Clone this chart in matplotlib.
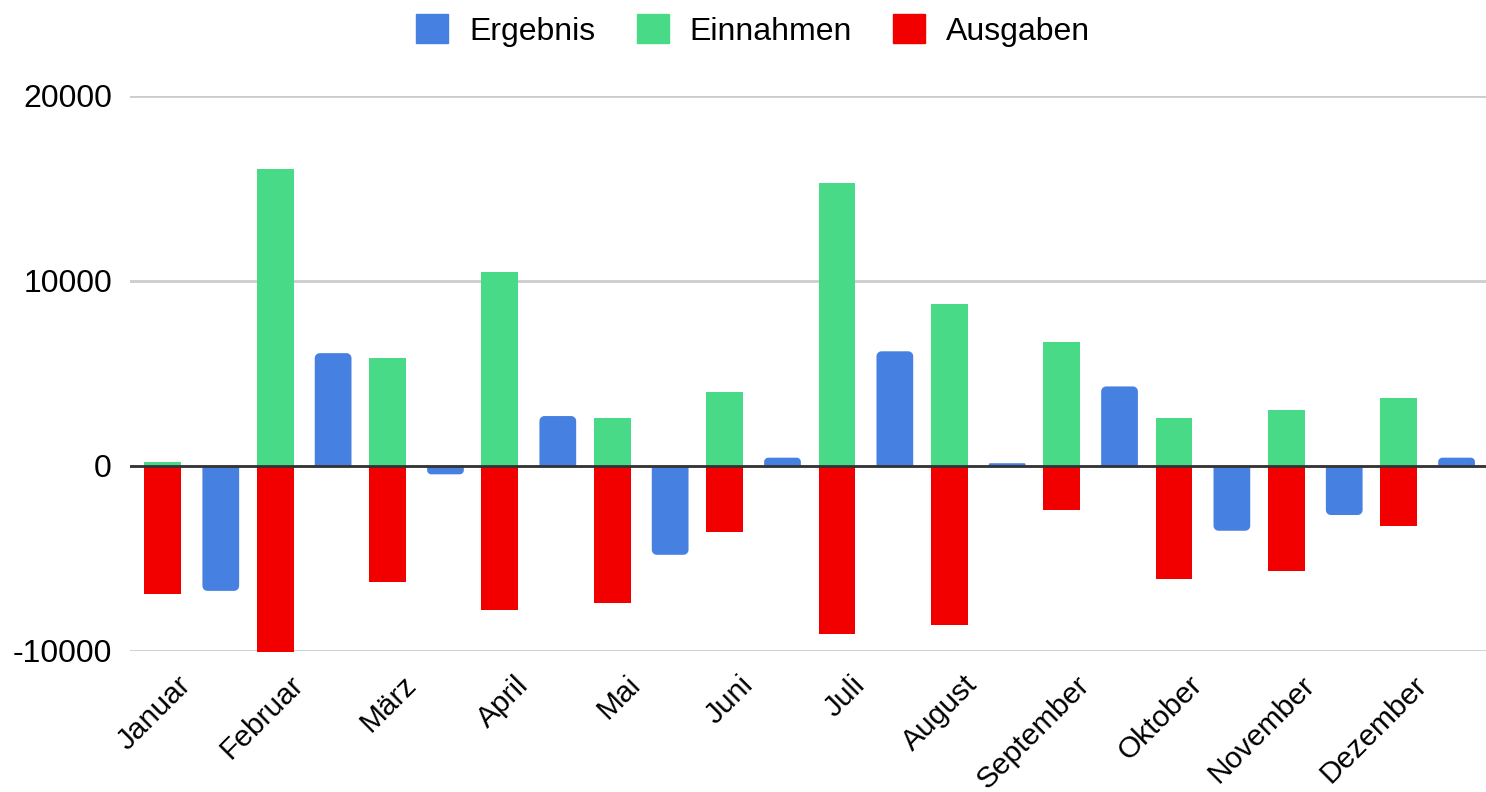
import matplotlib as mpl
import matplotlib.pyplot as plt
import matplotlib.transforms as mtransforms
from matplotlib.patches import Patch, Polygon
import numpy as np

mpl.rcParams['font.family'] = ['Liberation Sans', 'DejaVu Sans']

# data
monate = ['Januar', 'Februar', 'März', 'April', 'Mai', 'Juni', 'Juli',
          'August', 'September', 'Oktober', 'November', 'Dezember']
einnahmen = [200, 16050, 5850, 10500, 2600, 4000, 15300, 8750, 6700, 2600, 3000, 3700]
ausgaben = [-6900, -10050, -6250, -7800, -7400, -3550, -9100, -8600, -2400, -6100, -5700, -3250]
ergebnis = [-6750, 6100, -450, 2700, -4800, 450, 6200, 150, 4300, -3500, -2650, 450]

c_blue = '#4680E0'
c_green = '#48DA87'
c_red = '#F20000'
fs = 23

fig = plt.figure(figsize=(14.86, 7.92), dpi=100)
ax = fig.add_axes([130/1486, 141/792, 1356/1486, 555/792])

x = np.arange(len(monate))
off = 0.258
w = 0.327
xlim = (-0.55, 11.52)
ylim = (-10000, 20000)
ax.set_xlim(xlim)
ax.set_ylim(ylim)

ax.bar(x - off, einnahmen, w, color=c_green, zorder=3, clip_on=False)
ax.bar(x - off, ausgaben, w, color=c_red, zorder=3, clip_on=False)

# blue bars: square at the base, rounded at the outer end
px_x = (xlim[1] - xlim[0]) / 1356.0   # data units per pixel
px_y = (ylim[1] - ylim[0]) / 555.0
t = np.linspace(0, np.pi / 2, 8)
for xi, v in zip(x, ergebnis):
    s = 1 if v > 0 else -1
    r_px = min(5.0, abs(v) / px_y / 2.0)
    rx, ry = r_px * px_x, r_px * px_y
    xl, xr = xi + off - w / 2, xi + off + w / 2
    cy = v - s * ry
    left = np.column_stack([xl + rx - rx * np.cos(t), cy + s * ry * np.sin(t)])
    right = np.column_stack([xr - rx + rx * np.sin(t), cy + s * ry * np.cos(t)])
    pts = np.vstack([[xl, 0], left, right, [xr, 0]])
    ax.add_patch(Polygon(pts, closed=True, facecolor=c_blue, edgecolor='none', zorder=3))

ax.set_yticks([-10000, 0, 10000, 20000])
ax.set_yticklabels(['-10000', '0', '10000', '20000'])
ax.yaxis.grid(True, color='#cccccc', linewidth=2, zorder=0)
ax.axhline(0, color='#333333', linewidth=2, zorder=4)
ax.set_axisbelow(True)
for sp in ax.spines.values():
    sp.set_visible(False)
ax.tick_params(axis='both', length=0, labelsize=fs)
ax.tick_params(axis='y', pad=13)
ax.set_xticks(x)
ax.set_xticklabels(monate, rotation=45, ha='right', va='top', rotation_mode='anchor',
                   fontsize=21.5)
ax.tick_params(axis='x', pad=12)
shift = mtransforms.ScaledTranslation(-15/100, -3/100, fig.dpi_scale_trans)
for lab in ax.get_xticklabels():
    lab.set_transform(lab.get_transform() + shift)

handles = [Patch(color=c_blue, label='Ergebnis'),
           Patch(color=c_green, label='Einnahmen'),
           Patch(color=c_red, label='Ausgaben')]
fig.legend(handles=handles, loc='upper center', bbox_to_anchor=(0.507, 1.018), ncol=3,
           frameon=False, fontsize=fs, handlelength=1.0, handleheight=1.0,
           handletextpad=0.65, columnspacing=1.3)

plt.savefig('out.png', dpi=100)
